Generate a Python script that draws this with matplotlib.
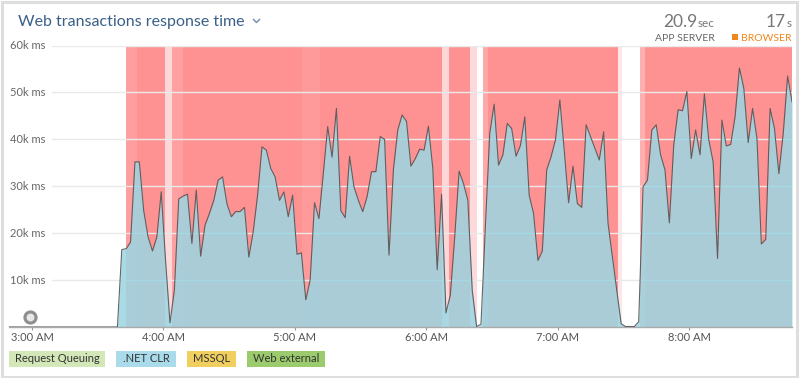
import numpy as np
import matplotlib.pyplot as plt
from matplotlib.patches import Rectangle
from matplotlib.lines import Line2D
import matplotlib.transforms as mtransforms

plt.rcParams['font.family'] = ['Lato', 'DejaVu Sans']

W, H = 800, 378

def fx(px):
	return px / W

def fy(py):
	return 1 - py / H

########################## DATA ##########################
# one sample every 2 minutes, x in minutes after 3:00 AM
idle_k_ms = [0.0] * 26   # 2:49 .. 3:39, app idle
busy_k_ms = [16.5, 16.7, 18.1, 35.2, 35.2, 24.8, 19.2, 16.2, 19.2, 28.8,
	14.0, 0.9, 7.8, 27.3, 27.9, 28.3, 17.8, 29.2, 15.1, 21.7,
	24.2, 27.0, 31.3, 32.0, 26.3, 23.5, 24.6, 24.6, 25.5, 14.9,
	20.3, 28.1, 38.4, 37.7, 33.8, 32.0, 27.0, 28.8, 23.5, 28.1,
	15.5, 15.8, 5.8, 10.0, 26.5, 23.1, 32.7, 42.7, 36.2, 46.6,
	24.8, 23.3, 36.4, 29.9, 27.0, 24.6, 27.8, 33.1, 33.1, 40.6,
	40.0, 15.3, 33.5, 42.0, 45.2, 43.8, 34.3, 35.9, 37.9, 37.7,
	42.8, 33.8, 12.2, 28.3, 3.0, 6.8, 19.2, 33.2, 30.6, 27.0,
	7.8, 0.1, 0.6, 21.4, 41.3, 47.5, 34.5, 36.7, 43.4, 42.3,
	36.4, 38.7, 44.8, 28.1, 24.2, 14.2, 16.2, 33.5, 36.3, 39.9,
	48.4, 37.7, 26.5, 34.3, 26.3, 25.5, 43.1, 40.6, 38.1, 35.6,
	41.6, 22.1, 14.9, 7.8, 0.7, 0.1, 0.1, 0.1, 1.1, 29.9,
	31.3, 42.0, 43.1, 36.7, 33.5, 22.2, 38.8, 46.3, 46.1, 50.2,
	35.9, 42.0, 36.7, 49.7, 39.9, 35.2, 14.6, 44.1, 38.6, 38.9,
	44.8, 55.2, 50.9, 39.3, 46.6, 40.2, 17.7, 18.7, 46.6, 42.3,
	32.7, 41.3, 53.5, 48.0]
response_k_ms = idle_k_ms + busy_k_ms
minutes = np.arange(len(response_k_ms)) * 2 - 11

# apdex background bands (minutes after 3:00)
band_start = [42.9, 47.8, 60.7, 64.0, 68.8, 123.1, 131.7, 187.4, 190.4, 199.8, 205.9, 208.2, 267.5, 277.7, 279.7]
band_end = [47.8, 60.7, 64.0, 68.8, 123.1, 131.7, 187.4, 190.4, 199.8, 203.2, 208.2, 267.5, 269.5, 279.7, 347.0]
band_color = ['#fe9e9e', '#fe9293', '#fdd8da', '#fea0a0', '#fe9293', '#fe9a9a', '#fe9293', '#fdd6d8',
	'#fe9293', '#fdd9db', '#fea8a8', '#fe9293', '#fde6e8', '#feb0b0', '#fe9293']

hour_ticks = [0, 60, 120, 180, 240, 300]
hour_labels = ['3:00 AM', '4:00 AM', '5:00 AM', '6:00 AM', '7:00 AM', '8:00 AM']
grid_k_ms = [10, 20, 30, 40, 50, 60]
grid_labels = ['10k ms', '20k ms', '30k ms', '40k ms', '50k ms', '60k ms']

legend_names = ['Request Queuing', '.NET CLR', 'MSSQL', 'Web external']
legend_colors = ['#d4e7b9', '#a9dbea', '#f1cf5f', '#9bcb6c']
legend_x = [(9, 105), (116, 176), (187, 236), (247, 325)]

######################### FIGURE #########################
fig = plt.figure(figsize=(8, 3.78), dpi=100)
ax = fig.add_axes([fx(9), fy(327), fx(792) - fx(9), fy(45.5) - fy(327)])

for s, e, c in zip(band_start, band_end, band_color):
	ax.axvspan(s, e, color=c, lw=0, zorder=0)

for g in grid_k_ms:
	ax.axhline(g, xmin=(52 - 9) / 783, xmax=1, color='#e9e9e9', lw=1, zorder=1)

ax.fill_between(minutes, response_k_ms, 0, color='#9bd6e3', alpha=0.86, lw=0, zorder=2)
ax.plot(minutes, response_k_ms, color='#555555', lw=0.8, alpha=0.9, zorder=3)

ax.set_xlim(-10.5, 347)
ax.set_ylim(0, 60)
ax.set_yticks([])
ax.set_xticks(hour_ticks)
ax.set_xticklabels(hour_labels, fontsize=8, color='#555555')
ax.tick_params(axis='x', length=2, width=0.8, color='#999999', pad=1.5)
for side in ['top', 'left', 'right']:
	ax.spines[side].set_visible(False)
ax.spines['bottom'].set_color('#aaaaaa')
ax.spines['bottom'].set_linewidth(1)

trans = mtransforms.blended_transform_factory(ax.transAxes, ax.transData)
for g, lab in zip(grid_k_ms, grid_labels):
	ax.text(0.0013, g, lab, transform=trans, ha='left', va='center', fontsize=8, color='#666666')

# little annotation ring at the origin
ax.scatter([(30 - 9) / 783], [(327 - 317) / 281.5], s=85, color='#8e8e8e', transform=ax.transAxes, clip_on=False, zorder=5)
ax.scatter([(30 - 9) / 783], [(327 - 317) / 281.5], s=22, color='#e8e8e8', transform=ax.transAxes, clip_on=False, zorder=6)

# header
fig.text(fx(18), fy(26), 'Web transactions response time', fontsize=11.5, color='#3a6088', va='baseline')
fig.add_artist(Line2D([fx(253.5), fx(256.5), fx(259.5)], [fy(19.5), fy(22.5), fy(19.5)], color='#6d88a5', lw=1))

fig.text(fx(697), fy(27.3), '20.9', fontsize=12.5, color='#777777', ha='right', va='baseline')
fig.text(fx(715), fy(27.3), 'sec', fontsize=8.5, color='#777777', ha='right', va='baseline')
fig.text(fx(715), fy(40.7), 'APP SERVER', fontsize=7.5, color='#666666', ha='right', va='baseline')
fig.text(fx(785.5), fy(27.3), '17', fontsize=12.5, color='#777777', ha='right', va='baseline')
fig.text(fx(792), fy(27.3), 's', fontsize=8.5, color='#777777', ha='right', va='baseline')
fig.text(fx(792), fy(40.7), 'BROWSER', fontsize=7.5, color='#f0861d', ha='right', va='baseline')
fig.patches.append(Rectangle((fx(732), fy(40)), fx(6), 6 / H, transform=fig.transFigure, color='#f0861d', lw=0))

# legend chips
for (x0, x1), name, col in zip(legend_x, legend_names, legend_colors):
	fig.patches.append(Rectangle((fx(x0), fy(367)), fx(x1 - x0), 16 / H, transform=fig.transFigure, color=col, lw=0))
	fig.text(fx((x0 + x1) / 2), fy(359), name, fontsize=8, color='#333333', ha='center', va='center')

# card border
fig.patches.append(Rectangle((fx(1.5), fy(376.5)), fx(795.5), 375 / H, transform=fig.transFigure,
	fill=False, edgecolor='#dedede', lw=2.2))

fig.savefig('out.png', dpi=100)
